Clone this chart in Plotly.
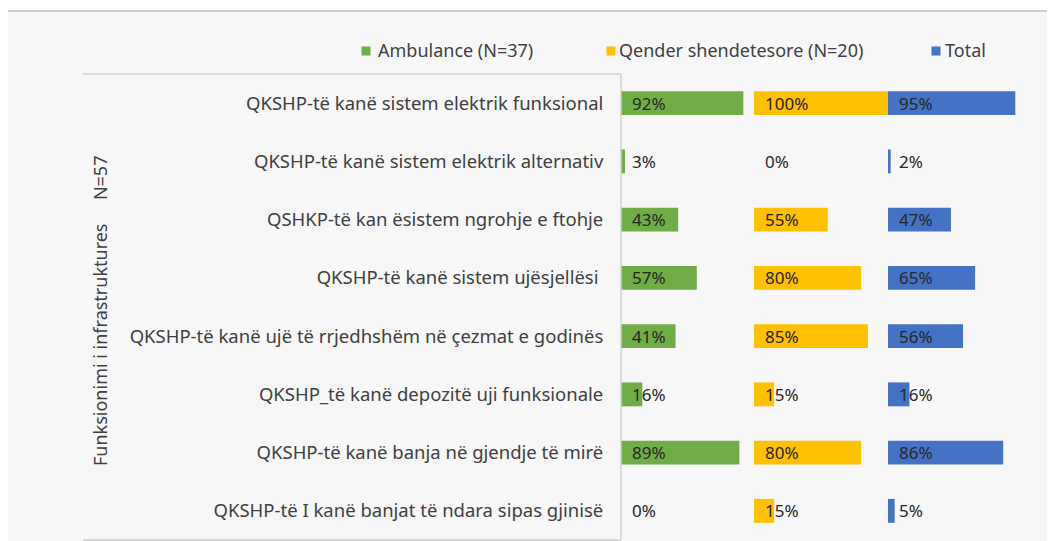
import plotly.graph_objects as go

categories = [
    'QKSHP-të kanë sistem elektrik funksional',
    'QKSHP-të kanë sistem elektrik alternativ',
    'QSHKP-të kan ësistem ngrohje e ftohje',
    'QKSHP-të kanë sistem ujësjellësi ',
    'QKSHP-të kanë ujë të rrjedhshëm në çezmat e godinës',
    'QKSHP_të kanë depozitë uji funksionale',
    'QKSHP-të kanë banja në gjendje të mirë',
    'QKSHP-të I kanë banjat të ndara sipas gjinisë',
]
ambulance = [92, 3, 43, 57, 41, 16, 89, 0]
qender = [100, 0, 55, 80, 85, 15, 80, 15]
total = [95, 2, 47, 65, 56, 16, 86, 5]

series_names = ['Ambulance (N=37)', 'Qender shendetesore (N=20)', 'Total']
series_values = [ambulance, qender, total]
series_colors = ['#70AD47', '#FFC000', '#4472C4']

# the page body adds an 8px margin, so the figure is drawn 8px in
OFF = 8
W, H = 1055 - OFF, 541 - OFF
FONT = 'Noto Sans'
TXT = '#404040'


def px(x):
    return (x - OFF) / W


def py(y):
    return 1 - (y - OFF) / H


# pixel spans of the three panels (page coordinates)
panel_x = [(621, 754), (754, 888), (888, 1022)]
y_dom = [py(540), py(74)]

fig = go.Figure()
for i, (name, vals, col) in enumerate(zip(series_names, series_values, series_colors)):
    sfx = '' if i == 0 else str(i + 1)
    fig.add_trace(go.Bar(
        y=categories, x=vals, orientation='h', name=name,
        marker=dict(color=col, line=dict(width=0)),
        xaxis='x' + sfx, yaxis='y' + sfx,
        showlegend=False,
        hovertemplate='%{y}: %{x}%<extra>' + name + '</extra>',
    ))
    for cat, v in zip(categories, vals):
        fig.add_annotation(
            x=0, y=cat, xref='x' + sfx, yref='y' + sfx,
            text=f'{v}%', showarrow=False, xanchor='left', xshift=9,
            font=dict(family=FONT, size=17, color='#262626'),
        )

layout_axes = {}
for i, (x0, x1) in enumerate(panel_x):
    sfx = '' if i == 0 else str(i + 1)
    layout_axes['xaxis' + sfx] = dict(
        domain=[px(x0), px(x1)], range=[0, 100], visible=False,
        anchor='y' + sfx, fixedrange=True,
    )
    ydict = dict(
        domain=y_dom, anchor='x' + sfx, autorange='reversed',
        type='category', showgrid=False, zeroline=False, automargin=False,
    )
    if i == 0:
        ydict.update(
            showticklabels=True, ticks='outside', ticklen=13,
            tickcolor='rgba(0,0,0,0)', showline=False,
            tickfont=dict(family=FONT, size=18.5, color=TXT),
        )
    else:
        ydict.update(matches='y', visible=False)
    layout_axes['yaxis' + sfx] = ydict

fig.update_layout(**layout_axes)

# background frame and table lines
shapes = [
    dict(type='rect', xref='paper', yref='paper', x0=px(8), x1=1, y0=0, y1=py(11),
         fillcolor='#f7f7f7', line=dict(width=0), layer='below'),
    dict(type='line', xref='paper', yref='paper', x0=px(8), x1=1, y0=py(11), y1=py(11),
         line=dict(color='#bfbfbf', width=1.5)),
    dict(type='line', xref='paper', yref='paper', x0=px(83), x1=px(621), y0=py(74), y1=py(74),
         line=dict(color='#d0d0d0', width=1.5)),
    dict(type='line', xref='paper', yref='paper', x0=px(83), x1=px(621), y0=py(540), y1=py(540),
         line=dict(color='#d0d0d0', width=1.5)),
    dict(type='line', xref='paper', yref='paper', x0=px(621), x1=px(621), y0=py(540), y1=py(74),
         line=dict(color='#d0d0d0', width=1.5)),
]

# custom legend
legend_pos = [(366, 376), (611, 617), (936, 943)]
for (sq, tx), name, col in zip(legend_pos, series_names, series_colors):
    shapes.append(dict(type='rect', xref='paper', yref='paper',
                       x0=px(sq - 4.5), x1=px(sq + 4.5), y0=py(55.5), y1=py(46.5),
                       fillcolor=col, line=dict(width=0)))
    fig.add_annotation(x=px(tx), y=py(50), xref='paper', yref='paper', text=name,
                       showarrow=False, xanchor='left', yanchor='middle',
                       font=dict(family=FONT, size=18, color=TXT))

fig.add_annotation(
    x=px(100), y=py(311), xref='paper', yref='paper',
    text='Funksionimi i infrastruktures\u00a0\u00a0\u00a0\u00a0\u00a0N=57',
    textangle=-90, showarrow=False, xanchor='center', yanchor='middle',
    font=dict(family=FONT, size=18, color=TXT),
)

fig.update_layout(
    width=W, height=H,
    margin=dict(l=0, r=0, t=0, b=0),
    paper_bgcolor='white', plot_bgcolor='rgba(0,0,0,0)',
    bargap=0.59, showlegend=False,
    shapes=shapes,
    font=dict(family=FONT, color=TXT),
)

fig.write_html('out.html')
